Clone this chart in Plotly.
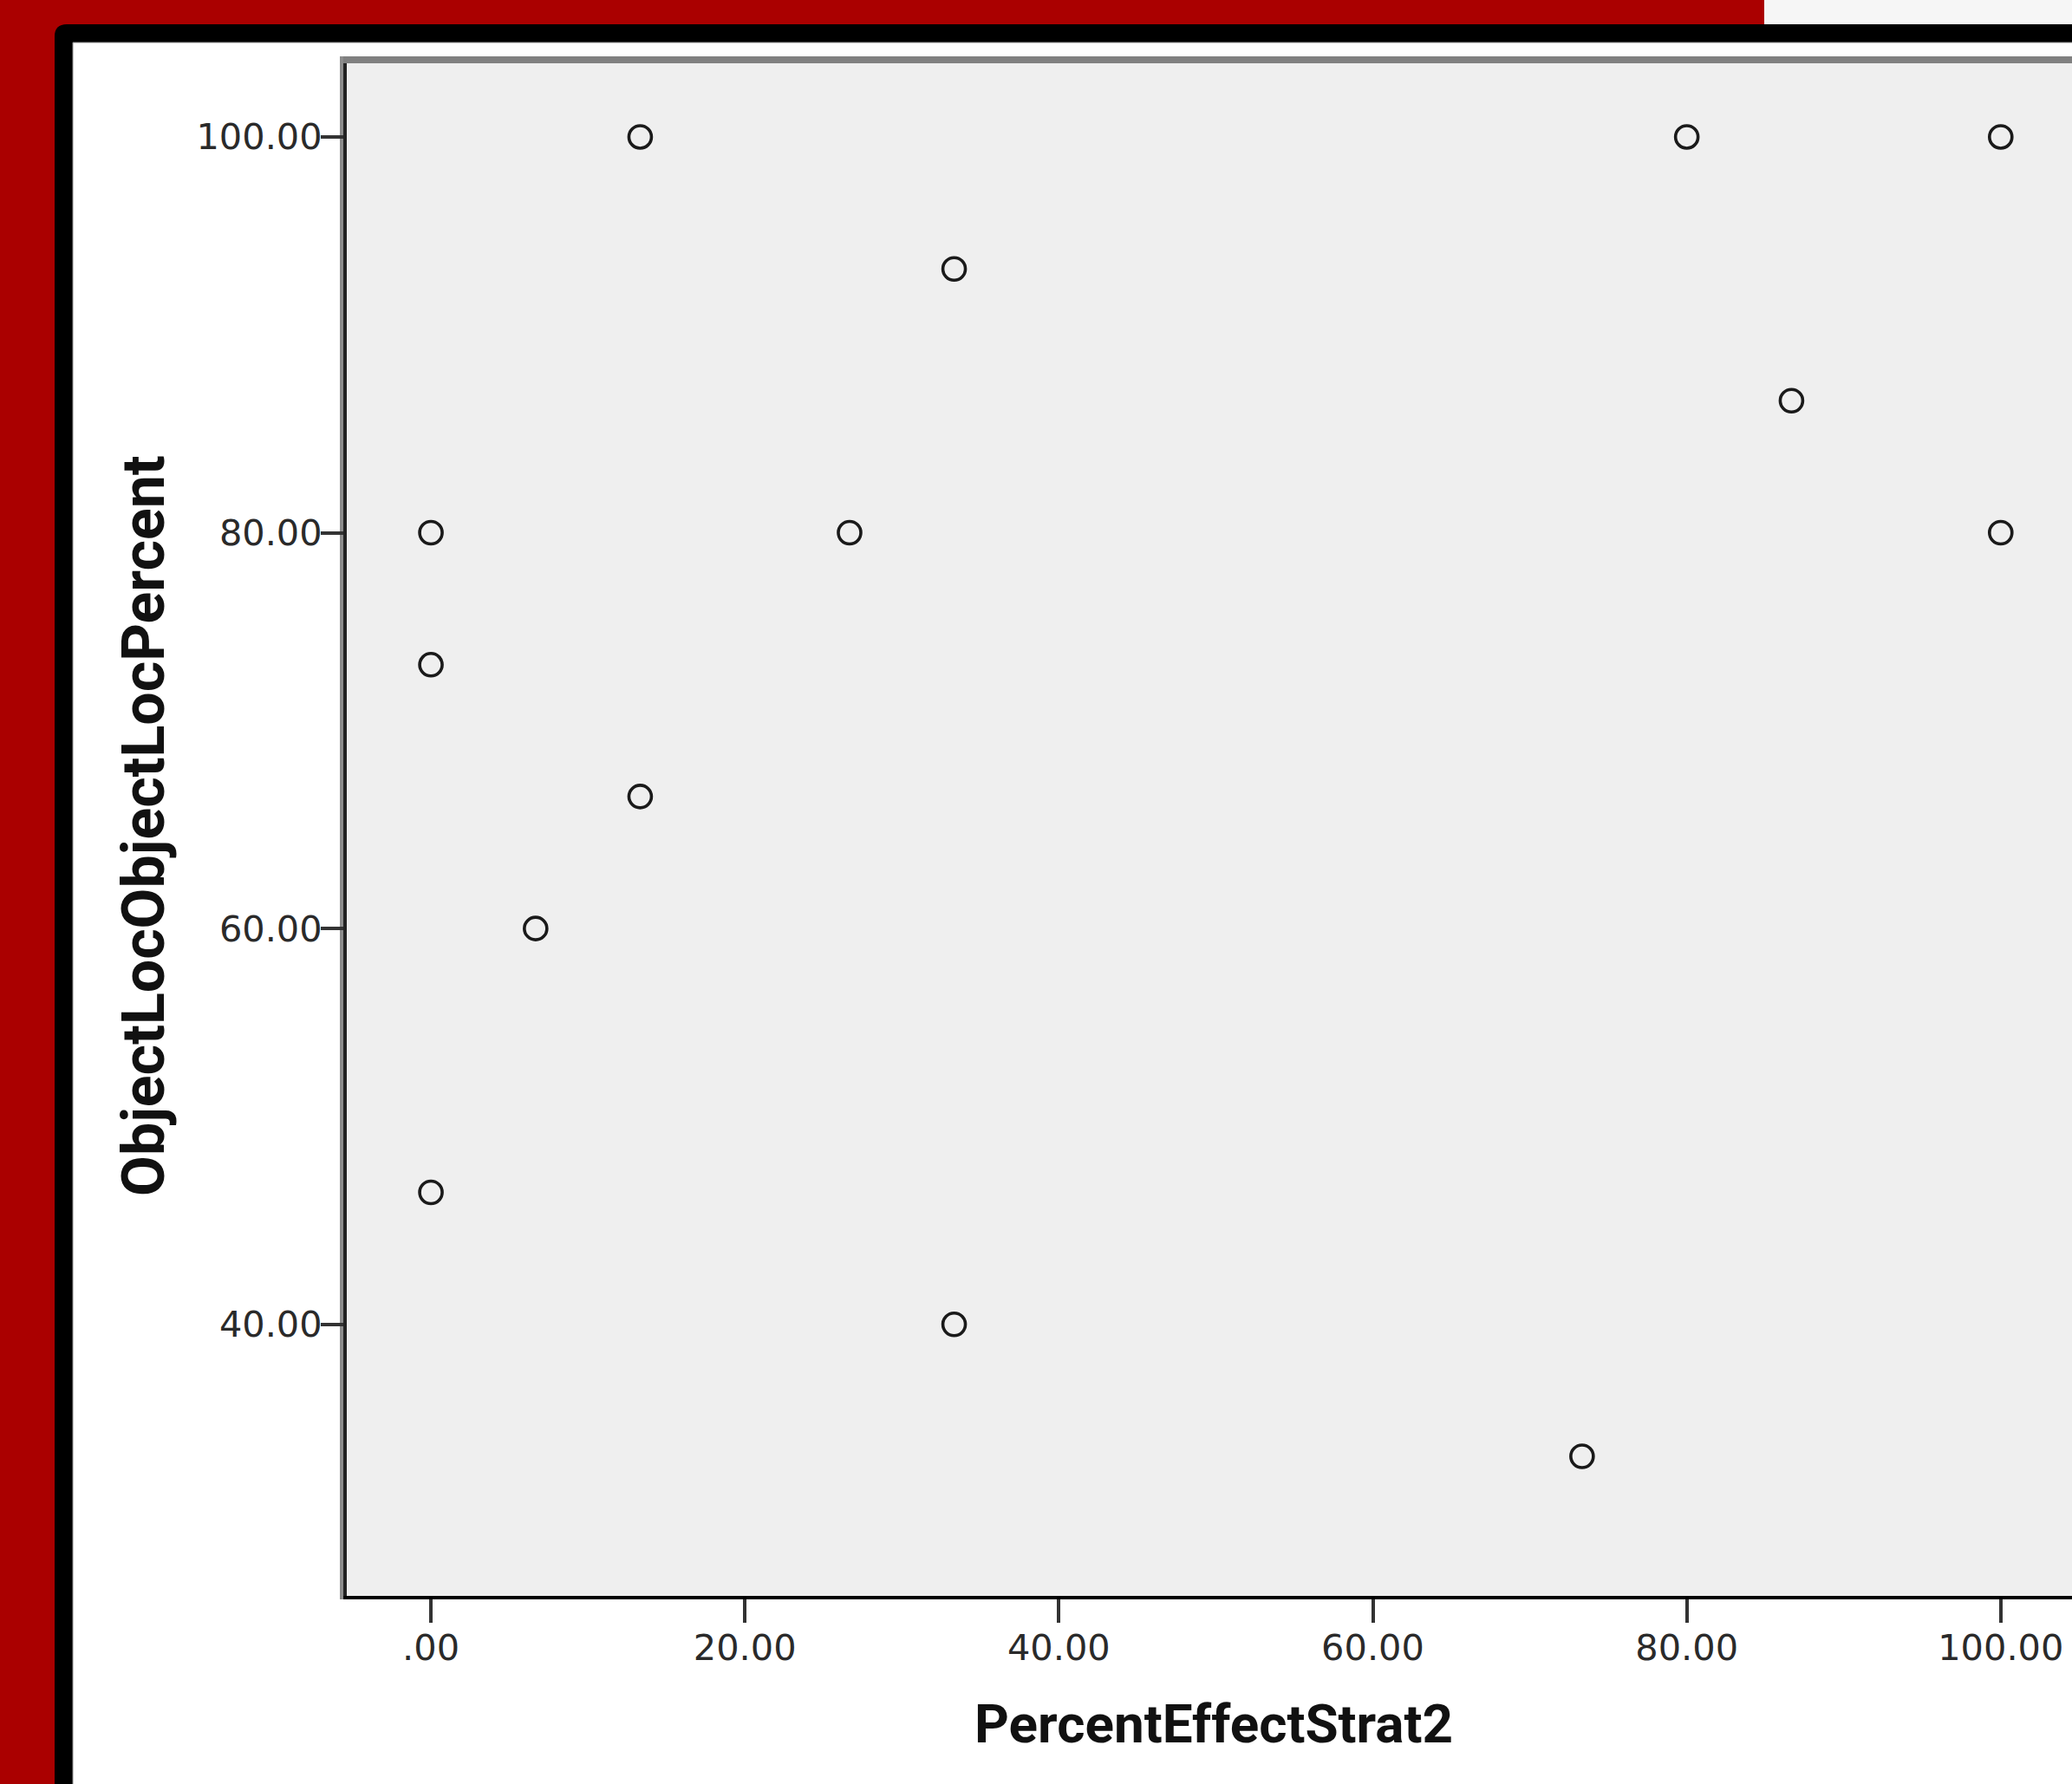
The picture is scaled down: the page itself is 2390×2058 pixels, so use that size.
import plotly.graph_objects as go

# ---- data ----
percent_effect_strat2 = [13.33, 33.33, 80.00, 100.00, 86.67, 0.00, 26.67, 100.00,
                         0.00, 13.33, 6.67, 0.00, 33.33, 73.33]
object_loc_percent = [100.00, 93.33, 100.00, 100.00, 86.67, 80.00, 80.00, 80.00,
                      73.33, 66.67, 60.00, 46.67, 40.00, 33.33]

x_tickvals = [0, 20, 40, 60, 80, 100]
x_ticktext = [".00", "20.00", "40.00", "60.00", "80.00", "100.00"]
y_tickvals = [40, 60, 80, 100]
y_ticktext = ["40.00", "60.00", "80.00", "100.00"]

x_title = "PercentEffectStrat2"
y_title = "ObjectLocObjectLocPercent"

# ---- geometry ----
W, H = 2390, 2058
L, R, T, B = 400, 2390, 73, 1841


def px(x):
    return (x - L) / (R - L)


def py(y):
    return (B - y) / (B - T)


fig = go.Figure()
fig.add_trace(go.Scatter(
    x=percent_effect_strat2, y=object_loc_percent, mode="markers",
    marker=dict(symbol="circle-open", size=26, color="#1a1a1a",
                line=dict(width=3.6, color="#1a1a1a")),
    hoverinfo="x+y", showlegend=False,
))

shapes = []
# black frame with rounded top-left corner
fx0, fy0, rad = 63, 28, 14
path = (f"M {px(fx0)},{py(2080)} L {px(fx0)},{py(fy0 + rad)} "
        f"Q {px(fx0)},{py(fy0)} {px(fx0 + rad)},{py(fy0)} "
        f"L {px(2420)},{py(fy0)} L {px(2420)},{py(2080)} Z")
shapes.append(dict(type="path", xref="paper", yref="paper", path=path,
                   fillcolor="#000000", line=dict(width=0), layer="below"))
# white panel
shapes.append(dict(type="rect", xref="paper", yref="paper",
                   x0=px(84), x1=px(2420), y0=py(49), y1=py(2080),
                   fillcolor="#ffffff", line=dict(width=1, color="#8a8a8a"),
                   layer="below"))
# light strip at the top right
shapes.append(dict(type="rect", xref="paper", yref="paper",
                   x0=px(2035), x1=px(2420), y0=py(-5), y1=py(28),
                   fillcolor="#f6f6f6", line=dict(width=0), layer="below"))
# plot area background
shapes.append(dict(type="rect", xref="paper", yref="paper",
                   x0=px(396), x1=px(2420), y0=py(1841), y1=py(65),
                   fillcolor="#efefef", line=dict(width=0), layer="below"))
# top grey border
shapes.append(dict(type="line", xref="paper", yref="paper",
                   x0=px(392), x1=px(2420), y0=py(69), y1=py(69),
                   line=dict(width=8, color="#808080"), layer="below"))
# grey edge left of y axis line
shapes.append(dict(type="line", xref="paper", yref="paper",
                   x0=px(394), x1=px(394), y0=py(65), y1=py(1845),
                   line=dict(width=4, color="#8c8c8c"), layer="below"))

tick_font = dict(family="DejaVu Sans", size=41.5, color="#2a2a2a")

fig.update_layout(
    width=W, height=H,
    margin=dict(l=L, r=W - R, t=T, b=H - B, pad=0),
    paper_bgcolor="#aa0000",
    plot_bgcolor="rgba(0,0,0,0)",
    shapes=shapes,
    xaxis=dict(
        range=[-5.36, 104.54], tickvals=x_tickvals, ticktext=x_ticktext,
        showgrid=False, zeroline=False, showline=True, linecolor="#000000",
        linewidth=4, ticks="outside", ticklen=27, tickwidth=4,
        tickcolor="#333333", tickfont=tick_font, ticklabelstandoff=-7,
    ),
    yaxis=dict(
        range=[26.28, 103.72], tickvals=y_tickvals, ticktext=y_ticktext,
        showgrid=False, zeroline=False, showline=True, linecolor="#222222",
        linewidth=4, ticks="outside", ticklen=26, tickwidth=4,
        tickcolor="#333333", tickfont=tick_font, ticklabelstandoff=-10,
    ),
    annotations=[
        dict(text=x_title, xref="paper", yref="paper", x=px(1400), y=py(1989),
             xanchor="center", yanchor="middle", showarrow=False,
             font=dict(family="Roboto", size=62, color="#111111", weight="bold")),
        dict(text=y_title, xref="paper", yref="paper", x=px(166), y=py(953),
             xanchor="center", yanchor="middle", showarrow=False, textangle=-90,
             font=dict(family="Roboto", size=68, color="#111111", weight="bold")),
    ],
)

fig.write_html(
    "out.html",
    config={"displayModeBar": False},
    post_script="document.body.style.margin='0';"
                "document.body.style.background='#aa0000';",
)
